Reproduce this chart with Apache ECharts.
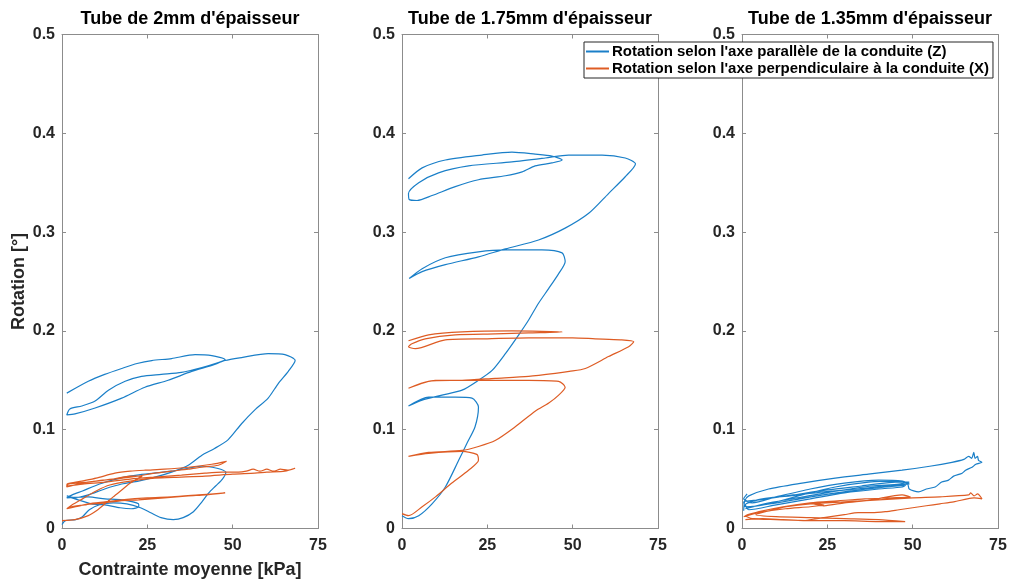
<!DOCTYPE html>
<html>
<head>
<meta charset="utf-8">
<script src="https://cdn.jsdelivr.net/npm/echarts@6/dist/echarts.min.js"></script>
<style>html,body{margin:0;padding:0;background:#fff}#c{width:1011px;height:580px}</style>
</head>
<body>
<div id="c"></div>
<script>
// ---- data ----
const titles = ["Tube de 2mm d'épaisseur", "Tube de 1.75mm d'épaisseur", "Tube de 1.35mm d'épaisseur"];
const seriesNames = ["Rotation selon l'axe parallèle de la conduite (Z)", "Rotation selon l'axe perpendiculaire à la conduite (X)"];
const xTicks = [0, 25, 50, 75];
const yTicks = [0, 0.1, 0.2, 0.3, 0.4, 0.5];
const xLabel = "Contrainte moyenne [kPa]";
const yLabel = "Rotation [°]";

// Tube 2mm - Z (blue)
const z2mm = [[1.4,0.137],[7.7,0.149],[12.5,0.156],[17.5,0.162],[22,0.167],[26.3,0.170],[32.1,0.172],[39,0.176],[43.9,0.175],[47.8,0.171],
[45.8,0.168],[41,0.163],[35,0.158],[29.1,0.156],[23.3,0.154],[18.5,0.149],[13.6,0.140],[9.7,0.129],[5.8,0.124],[2.3,0.121],[1.4,0.115],
[3.8,0.116],[9.7,0.122],[17.5,0.132],[24.3,0.143],[31.1,0.150],[38,0.159],[43.9,0.165],[47.8,0.170],[52.6,0.173],[60.4,0.177],[65.3,0.176],[68.3,0.170],
[66.3,0.159],[63.4,0.147],[60.4,0.132],[56.5,0.120],[52.6,0.106],[48.7,0.090],[44.7,0.081],[40.9,0.074],[37,0.064],[32.1,0.057],[27.2,0.052],[22.4,0.048],[17.5,0.045],[12.5,0.040],[7.7,0.034],[3.8,0.031],[1.4,0.033],
[3.8,0.030],[8.7,0.025],[12.6,0.024],[17,0.021],[20.3,0.020],[22.5,0.022],[22.4,0.025],[17.5,0.029],[12.6,0.030],[7.7,0.032],[1.4,0.031],
[3,0.034],[6,0.038],[11,0.045],[17,0.051],[22,0.054],[27,0.056],[32,0.058],[37,0.061],[41,0.063],[44,0.062],[46.5,0.060],[48,0.057],[47,0.050],[45,0.043],[43,0.036],[41,0.027],[38.5,0.017],[35.5,0.011],[32.6,0.009],[29,0.011],[26,0.016],[23,0.021],[19,0.025],[15,0.026],[11,0.024],[8,0.019],[6,0.012],[4,0.009],[1,0.008],[0,0.004]];

// Tube 2mm - X (orange)
const x2mm = [[0,0.008],[3.8,0.009],[7.7,0.013],[10.5,0.019],[12.6,0.025],[15,0.032],[17.5,0.039],[20,0.046],[22.4,0.051],[23.5,0.053],
[20,0.053],[15,0.050],[10,0.048],[5.8,0.046],[1.4,0.042],[1.5,0.045],
[5.8,0.048],[10,0.051],[15.5,0.056],[20,0.058],[24.3,0.059],[30,0.060],[37,0.062],[43.9,0.065],[48.2,0.068],
[45.8,0.064],[41,0.062],[37,0.060],[32,0.058],[27.2,0.056],[22,0.053],[17.5,0.051],[12,0.049],[7.7,0.047],[1.8,0.045],[1.5,0.043],
[6,0.045],[12.6,0.047],[20,0.050],[27.2,0.052],[35,0.054],[41.9,0.056],[47,0.057],[51.7,0.057],[54,0.058],[56,0.060],[58,0.058],[60,0.060],[62,0.058],[64,0.060],[66,0.059],[68.3,0.061],
[65.3,0.058],[60,0.057],[56.5,0.056],[50,0.055],[41.9,0.053],[35,0.052],[27.2,0.051],[20,0.048],[14,0.044],[10,0.038],[6,0.030],[3,0.024],[1.4,0.020],
[4,0.022],[7.7,0.025],[12.6,0.027],[17.5,0.029],[25,0.031],[32.1,0.032],[40,0.034],[47.8,0.036],
[42,0.034],[37,0.033],[30,0.031],[22.4,0.029],[17,0.028],[12.6,0.026],[7,0.024],[2.8,0.022],[1.4,0.020]];

// Tube 1.75mm - Z (blue)
const z175 = [[1.9,0.354],[5.9,0.365],[12.7,0.373],[23.4,0.378],[32.2,0.381],[39,0.379],[43.9,0.377],[46.9,0.373],[43.9,0.370],[39,0.367],[35.2,0.361],[30.3,0.357],[22.4,0.353],[15.6,0.346],[8.8,0.337],[4.4,0.332],[2.1,0.333],[1.9,0.339],
[4.9,0.350],[10.7,0.360],[19.5,0.367],[32.2,0.371],[42,0.375],[48.8,0.378],[58.6,0.378],[65.4,0.375],[68.4,0.369],[65.4,0.356],[60.5,0.339],[54.7,0.319],[47.8,0.304],[40,0.292],[30.3,0.283],[22.4,0.275],[12.7,0.267],[5.9,0.260],[2.1,0.253],
[5.9,0.263],[12.7,0.274],[22.4,0.280],[30.3,0.282],[41,0.282],[46.9,0.279],[47.8,0.270],[45.9,0.258],[43,0.243],[40,0.228],[37.1,0.211],[34.2,0.196],[30.3,0.177],[26.4,0.160],[22.4,0.150],[17.6,0.140],[11.7,0.135],[5.9,0.130],[1.9,0.124],
[7.8,0.133],[15.6,0.133],[20.5,0.132],[22.4,0.123],[21.4,0.103],[19,0.086],[16.6,0.069],[12.7,0.042],[8.8,0.025],[4.9,0.013],[1.9,0.010],[0,0.013]];

// Tube 1.75mm - X (orange)
const x175 = [[1.9,0.190],[7.8,0.196],[17.6,0.199],[32.2,0.200],[46.9,0.199],[37.1,0.198],[27.3,0.197],[15.6,0.196],[6.8,0.192],[2.9,0.187],[1.9,0.184],[3.9,0.182],
[12.7,0.191],[25,0.192],[37.1,0.193],[50,0.193],[56.6,0.192],[64,0.191],[67.9,0.189],[66.4,0.184],[60.5,0.174],[53.7,0.162],[49,0.159],[44.9,0.157],[37.1,0.154],[27.3,0.152],[17.6,0.150],[7.8,0.149],[1.9,0.142],
[9.8,0.150],[22.4,0.150],[37.1,0.150],[45.9,0.149],[47.8,0.143],[45.9,0.135],[43,0.127],[39.1,0.119],[33.2,0.103],[27.3,0.089],[22.4,0.083],[17.6,0.079],[7.8,0.077],[1.9,0.073],
[7.8,0.076],[17.6,0.078],[21.9,0.075],[22.4,0.069],[19.5,0.059],[14.6,0.046],[9.8,0.032],[5.9,0.022],[1.9,0.013],[0,0.015]];

// Tube 1.35mm - Z (blue)
const z135 = [[0.5,0.018],[0.8,0.028],[2,0.033],[7.8,0.040],[17.6,0.046],[27.3,0.051],[37,0.055],[46.9,0.059],[55,0.063],[61.5,0.067],[65,0.070],[66.4,0.073],[67.3,0.071],[67.9,0.077],[68.3,0.071],[69,0.073],[69.3,0.069],[70.3,0.067],
[68.5,0.065],[67.4,0.062],[65.5,0.059],[64.5,0.056],[62,0.053],[60.5,0.049],[58.5,0.047],[56.6,0.042],[54,0.040],[51.7,0.037],[49,0.040],[48.5,0.045],
[44.9,0.048],[37.1,0.047],[27.3,0.042],[17.6,0.034],[7.8,0.025],[1,0.022],[0.5,0.027],[5,0.029],[15,0.034],[25,0.039],[35,0.043],[45,0.047],[49,0.047],
[46,0.045],[38,0.043],[28,0.038],[18,0.032],[8,0.026],[1,0.020],[3,0.022],[12,0.027],[22,0.033],[32,0.038],[42,0.042],[48,0.044],
[47,0.042],[40,0.040],[30,0.036],[20,0.030],[10,0.024],[2,0.019],[1,0.024],[6,0.030],[14,0.033],[24,0.037],[34,0.040],[44,0.044],[49,0.045],
[47,0.048],[40,0.049],[30,0.046],[20,0.040],[10,0.032],[3,0.026],[0.5,0.030],[1.5,0.035]];

// Tube 1.35mm - X (orange)
const x135 = [[0.5,0.012],[5,0.016],[12.7,0.020],[20,0.022],[24,0.024],[21,0.025],[24,0.023],[30,0.026],[38,0.029],[46.9,0.034],[49.3,0.032],
[44,0.031],[36,0.030],[28,0.028],[20,0.026],[12,0.022],[5,0.017],[1,0.013],[3,0.010],[10,0.009],[20,0.008],[30,0.008],[40,0.007],[47.8,0.007],
[40,0.009],[30,0.010],[20,0.011],[10,0.012],[4,0.014],[8,0.018],[13,0.022],[20,0.025],[30,0.027],[40,0.029],[50,0.031],[58,0.032],[66.4,0.034],[67,0.036],[68,0.033],[69,0.035],[70.3,0.030],
[68,0.031],[66,0.030],[62,0.027],[58,0.025],[54,0.023],[50,0.021],[46,0.019],[42,0.017],[38,0.016],[34,0.016],[30,0.014],[26,0.012],[22,0.010],[18,0.008],[12,0.009],[6,0.010],[1,0.009]];

const zData = [z2mm, z175, z135];
const xData = [x2mm, x175, x135];

// ---- chart ----
const FONT = "'Liberation Sans', Arial, Helvetica, sans-serif";
const BLUE = '#1a7fc8', ORANGE = '#de5c24';
const AXC = '#8c8c8c', TXT = '#262626';
const lefts = [62, 402, 742];
const W = 256, TOP = 34.5, H = 494;

const grids = [], xAxes = [], yAxes = [], series = [], graphics = [];
for (let i = 0; i < 3; i++) {
  grids.push({left: lefts[i], top: TOP, width: W, height: H, containLabel: false, outerBoundsMode: 'none'});
  const xmin = xTicks[0], xmax = xTicks[xTicks.length - 1], xint = xTicks[1] - xTicks[0];
  const ymin = yTicks[0], ymax = yTicks[yTicks.length - 1], yint = yTicks[1] - yTicks[0];
  const baseX = {type: 'value', gridIndex: i, min: xmin, max: xmax, interval: xint,
    axisLine: {show: true, onZero: false, lineStyle: {color: AXC, width: 1}},
    axisTick: {show: true, inside: true, length: 4, lineStyle: {color: AXC}},
    splitLine: {show: false}};
  const baseY = {type: 'value', gridIndex: i, min: ymin, max: ymax, interval: yint,
    axisLine: {show: true, onZero: false, lineStyle: {color: AXC, width: 1}},
    axisTick: {show: true, inside: true, length: 4, lineStyle: {color: AXC}},
    splitLine: {show: false}};
  xAxes.push(Object.assign({}, baseX, {position: 'bottom',
    axisLabel: {show: true, margin: 9, color: TXT, fontSize: 16, fontWeight: 'bold', fontFamily: FONT},
    name: i === 0 ? xLabel : '', nameLocation: 'middle', nameGap: 33,
    nameTextStyle: {color: TXT, fontSize: 18, fontWeight: 'bold', fontFamily: FONT}}));
  xAxes.push(Object.assign({}, baseX, {position: 'top', axisLabel: {show: false}}));
  yAxes.push(Object.assign({}, baseY, {position: 'left',
    axisLabel: {show: true, margin: 7, color: TXT, fontSize: 16, fontWeight: 'bold', fontFamily: FONT},
    name: i === 0 ? yLabel : '', nameLocation: 'middle', nameGap: 34,
    nameTextStyle: {color: TXT, fontSize: 18, fontWeight: 'bold', fontFamily: FONT}}));
  yAxes.push(Object.assign({}, baseY, {position: 'right', axisLabel: {show: false}}));

  series.push({name: seriesNames[0], type: 'line', xAxisIndex: 2 * i, yAxisIndex: 2 * i,
    data: zData[i], showSymbol: false, smooth: 0.25, lineStyle: {color: BLUE, width: 1.2}, itemStyle: {color: BLUE}});
  series.push({name: seriesNames[1], type: 'line', xAxisIndex: 2 * i, yAxisIndex: 2 * i,
    data: xData[i], showSymbol: false, smooth: 0.25, lineStyle: {color: ORANGE, width: 1.2}, itemStyle: {color: ORANGE}});

  graphics.push({type: 'text', x: lefts[i] + W / 2, y: 19.5,
    style: {text: titles[i], fill: '#000', font: 'bold 18px ' + FONT, textAlign: 'center', textVerticalAlign: 'middle'}});
}

const chart = echarts.init(document.getElementById('c'), null, {renderer: 'canvas'});
chart.setOption({
  animation: false,
  backgroundColor: '#fff',
  grid: grids,
  xAxis: xAxes,
  yAxis: yAxes,
  series: series,
  graphic: graphics,
  legend: {
    data: seriesNames, orient: 'vertical', left: 584, top: 42,
    padding: [2, 4, 2, 2], itemGap: 2, itemWidth: 23, itemHeight: 2, icon: 'rect',
    backgroundColor: '#fff', borderColor: '#262626', borderWidth: 1,
    textStyle: {color: '#000', fontSize: 15, fontWeight: 'bold', fontFamily: FONT, padding: [0, 0, 0, -2]},
    selectedMode: false
  }
});
</script>
</body>
</html>
